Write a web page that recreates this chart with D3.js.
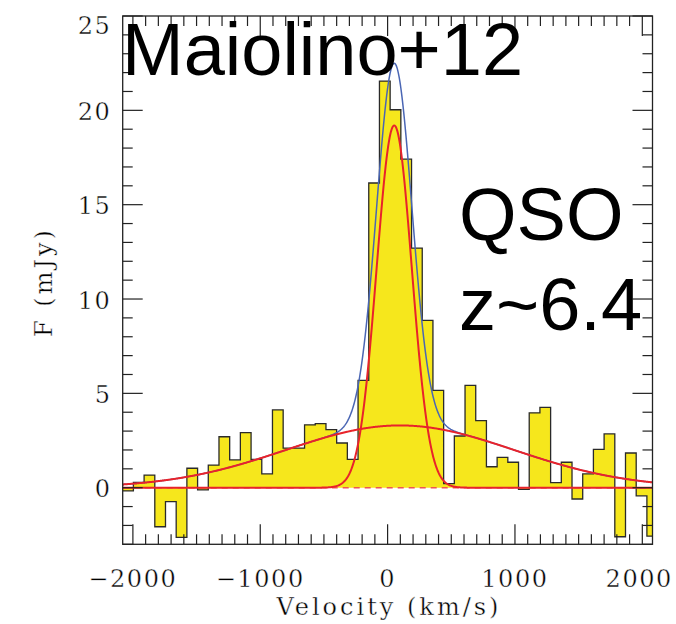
<!DOCTYPE html>
<html>
<head>
<meta charset="utf-8">
<script src="https://cdn.jsdelivr.net/npm/d3@7"></script>
<style>
  html, body { margin: 0; padding: 0; background: #fff; }
  svg { display: block; }
  .tick-label, .axis-title {
    font-family: "DejaVu Serif", serif; font-size: 24px; fill: #000;
    stroke: #fff; stroke-width: 0.4px; paint-order: fill stroke;
  }
  .tick-label { letter-spacing: 1.6px; }
  .axis-title { letter-spacing: 3px; }
  .big { font-family: "Liberation Sans", Arial, sans-serif; font-size: 74px; fill: #000; }
</style>
</head>
<body>
<svg id="chart" width="676" height="624"></svg>
<script>
// Spectrum channels: centre velocity (km/s) and flux density (mJy)
const velocity = [-2038, -1954, -1870, -1786, -1702, -1618, -1534, -1450, -1366, -1282,
                  -1198, -1114, -1030, -946, -862, -778, -694, -610, -526, -442,
                  -358, -274, -190, -106, -22, 62, 146, 230, 314, 398,
                  482, 566, 650, 734, 818, 902, 986, 1070, 1154, 1238,
                  1322, 1406, 1490, 1574, 1658, 1742, 1826, 1910, 1994, 2078];
const flux = [-0.17, 0.28, 0.67, -2.07, -0.74, -2.63, 1.03, -0.12, 1.2, 2.7,
              1.47, 2.92, 1.5, 0.73, 4.12, 2.1, 2.1, 3.33, 3.4, 3.08,
              2.37, 1.5, 5.69, 16.15, 21.55, 20.03, 17.41, 12.7, 8.87, 5.16,
              0.22, 2.74, 5.42, 3.55, 1.11, 1.61, 1.35, -0.09, 3.97, 4.26,
              0.27, 1.35, -0.6, 0.73, 2.03, 2.85, -2.6, 1.84, -0.43, -2.57];

// Two-Gaussian fit: narrow core and broad outflow wings
const narrowFit = { amp: 19.2, centre: 52, sigma: 138 };
const broadFit  = { amp: 3.3,  centre: 97, sigma: 895 };

const xTickLabels = [-2000, -1000, 0, 1000, 2000];
const yTickLabels = [0, 5, 10, 15, 20, 25];

const svg = d3.select("#chart");
const W = 676;
const plotLeft = 122.7, plotRight = 652.5, plotTop = 16, plotBottom = 544.3;

const x = d3.scaleLinear().domain([-2080, 2080]).range([plotLeft, plotRight]);
const y = d3.scaleLinear().domain([-3, 25]).range([plotBottom, plotTop]);

svg.append("defs").append("clipPath").attr("id", "plotclip")
  .append("rect").attr("x", plotLeft).attr("y", plotTop)
  .attr("width", plotRight - plotLeft).attr("height", plotBottom - plotTop);

const plot = svg.append("g").attr("clip-path", "url(#plotclip)");

// Histogram steps
const half = (velocity[1] - velocity[0]) / 2;
const steps = [];
velocity.forEach((v, i) => {
  steps.push([v - half, flux[i]]);
  steps.push([v + half, flux[i]]);
});

plot.append("path")
  .datum(steps)
  .attr("fill", "#f6e71c")
  .attr("stroke", "none")
  .attr("d", d3.area().x(d => x(d[0])).y0(y(0)).y1(d => y(d[1])));

plot.append("path")
  .datum(steps)
  .attr("fill", "none")
  .attr("stroke", "#2a2a2a")
  .attr("stroke-width", 1.3)
  .attr("d", d3.line().x(d => x(d[0])).y(d => y(d[1])));

// Zero level
plot.append("line")
  .attr("x1", plotLeft).attr("x2", plotRight)
  .attr("y1", y(0)).attr("y2", y(0))
  .attr("stroke", "#ee5555").attr("stroke-width", 1.4)
  .attr("stroke-dasharray", "6,5");

// Model curves
const gauss = (p, v) => p.amp * Math.exp(-((v - p.centre) ** 2) / (2 * p.sigma ** 2));
const grid = d3.range(-2080, 2081, 4);
const curve = f => d3.line().x(v => x(v)).y(v => y(f(v)))(grid);

plot.append("path")
  .attr("fill", "none").attr("stroke", "#4a66b4").attr("stroke-width", 1.5)
  .attr("d", curve(v => gauss(narrowFit, v) + gauss(broadFit, v)));

plot.append("path")
  .attr("fill", "none").attr("stroke", "#e8232b").attr("stroke-width", 2)
  .attr("d", curve(v => gauss(broadFit, v)));

plot.append("path")
  .attr("fill", "none").attr("stroke", "#e8232b").attr("stroke-width", 2)
  .attr("d", curve(v => gauss(narrowFit, v)));

// Frame and ticks (all four sides, ticks pointing inwards)
const axisColor = "#222";
svg.append("rect")
  .attr("x", plotLeft).attr("y", plotTop)
  .attr("width", plotRight - plotLeft).attr("height", plotBottom - plotTop)
  .attr("fill", "none").attr("stroke", axisColor).attr("stroke-width", 1.3);

const ticks = svg.append("g").attr("stroke", axisColor).attr("stroke-width", 1.2);
d3.range(-2000, 2001, 100).forEach(v => {
  const len = v % 1000 === 0 ? 20 : 10;
  ticks.append("line").attr("x1", x(v)).attr("x2", x(v)).attr("y1", plotBottom).attr("y2", plotBottom - len);
  ticks.append("line").attr("x1", x(v)).attr("x2", x(v)).attr("y1", plotTop).attr("y2", plotTop + len);
});
d3.range(-3, 26, 1).forEach(v => {
  const len = v % 5 === 0 ? 20 : 10;
  ticks.append("line").attr("x1", plotLeft).attr("x2", plotLeft + len).attr("y1", y(v)).attr("y2", y(v));
  ticks.append("line").attr("x1", plotRight).attr("x2", plotRight - len).attr("y1", y(v)).attr("y2", y(v));
});

// Tick labels; the outermost ones are nudged to stay inside the page
svg.append("g").selectAll("text").data(xTickLabels).join("text")
  .attr("class", "tick-label")
  .attr("x", d => x(d)).attr("y", 587)
  .attr("text-anchor", "middle")
  .text(d => d < 0 ? "\u2212" + Math.abs(d) : String(d))
  .each(function () {
    const b = this.getBBox();
    const over = b.x + b.width - (W - 3);
    if (over > 0) d3.select(this).attr("x", +d3.select(this).attr("x") - over);
  });

// y labels sit on their ticks, but never rise above the top of the frame
svg.append("g").selectAll("text").data(yTickLabels).join("text")
  .attr("class", "tick-label")
  .attr("x", 111.5).attr("y", d => Math.max(y(d) + 9.5, plotTop + 18))
  .attr("text-anchor", "end")
  .text(d => String(d));

// Axis titles
svg.append("text").attr("class", "axis-title")
  .attr("x", 389).attr("y", 614.5).attr("text-anchor", "middle")
  .text("Velocity (km/s)");

svg.append("text").attr("class", "axis-title")
  .attr("transform", "translate(52,282) rotate(-90)")
  .attr("text-anchor", "middle")
  .text("F (mJy)");

// Annotations
svg.append("text").attr("class", "big").attr("x", 122).attr("y", 75).text("Maiolino+12");
svg.append("text").attr("class", "big").attr("x", 459).attr("y", 239.5).text("QSO");
svg.append("text").attr("class", "big").attr("x", 459).attr("y", 330).text("z~6.4");
</script>
</body>
</html>
